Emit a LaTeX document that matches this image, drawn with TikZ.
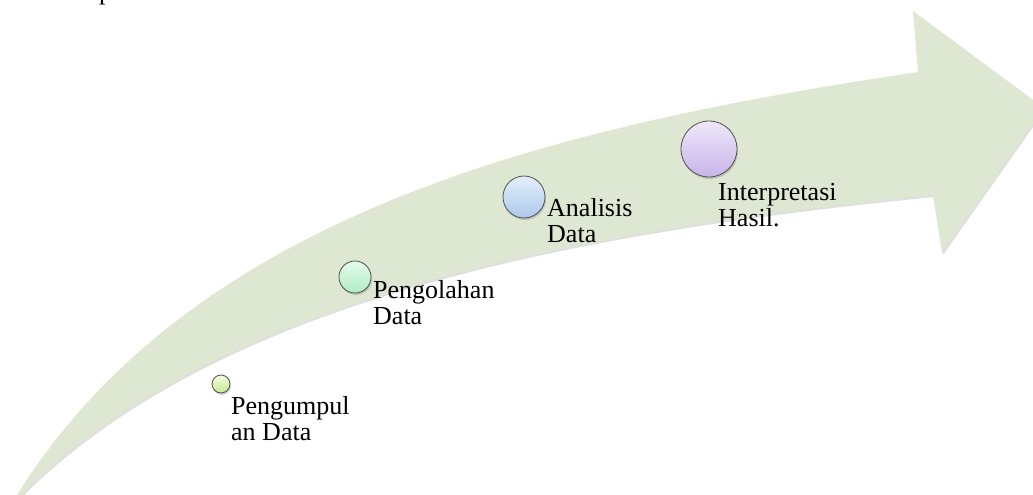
\documentclass[tikz,border=0pt]{standalone}
\usepackage{fontspec}
\setmainfont{Liberation Serif}
\usetikzlibrary{shadows}
\definecolor{arrowgreen}{RGB}{222,231,209}
\definecolor{ringgray}{RGB}{80,80,80}
\tikzset{
  stagedot/.style={circle, draw=ringgray, line width=0.8pt, inner sep=0pt,
    drop shadow={opacity=0.35, shadow xshift=1pt, shadow yshift=-2pt}},
  stagelabel/.style={font=\fontsize{26}{25.5}\selectfont, align=left,
    inner sep=0pt, anchor=base west, text=black},
}
\begin{document}
\begin{tikzpicture}[x=1pt,y=-1pt]
\useasboundingbox (0,0) rectangle (1033,495);
\begin{scope}
\clip (0,0) rectangle (1033,495);
% curved arrow
\fill[arrowgreen, drop shadow={opacity=0.25, shadow xshift=1pt, shadow yshift=-2pt}]
  (17,495) .. controls (197,207) and (568,124.5) .. (918,72)
  -- (913,11) -- (1044,108) -- (942,253) -- (933,195)
  .. controls (583,230) and (221,295) .. (21,495)
  -- cycle;
% fragment of a cut-off text line
\node[stagelabel] (frag) at (99,-0.8) {p};
% stage markers
\node[stagedot, minimum size=18pt, top color={rgb,255:red,242;green,252;blue,220}, bottom color={rgb,255:red,196;green,234;blue,150}] (c1) at (221,384) {};
\node[stagedot, minimum size=32pt, top color={rgb,255:red,228;green,252;blue,234}, bottom color={rgb,255:red,176;green,236;blue,196}] (c2) at (355,277) {};
\node[stagedot, minimum size=42pt, top color={rgb,255:red,228;green,238;blue,250}, bottom color={rgb,255:red,172;green,202;blue,236}] (c3) at (524,197) {};
\node[stagedot, minimum size=56pt, top color={rgb,255:red,238;green,232;blue,250}, bottom color={rgb,255:red,200;green,180;blue,232}] (c4) at (709,149) {};
% labels (base anchor = baseline of the last line)
\node[stagelabel] (t1) at (231,440) {Pengumpul\\an Data};
\node[stagelabel] (t2) at (373,324) {Pengolahan\\Data};
\node[stagelabel] (t3) at (547,242) {Analisis\\Data};
\node[stagelabel] (t4) at (718,226) {Interpretasi\\Hasil.};
\end{scope}
\end{tikzpicture}
\end{document}
